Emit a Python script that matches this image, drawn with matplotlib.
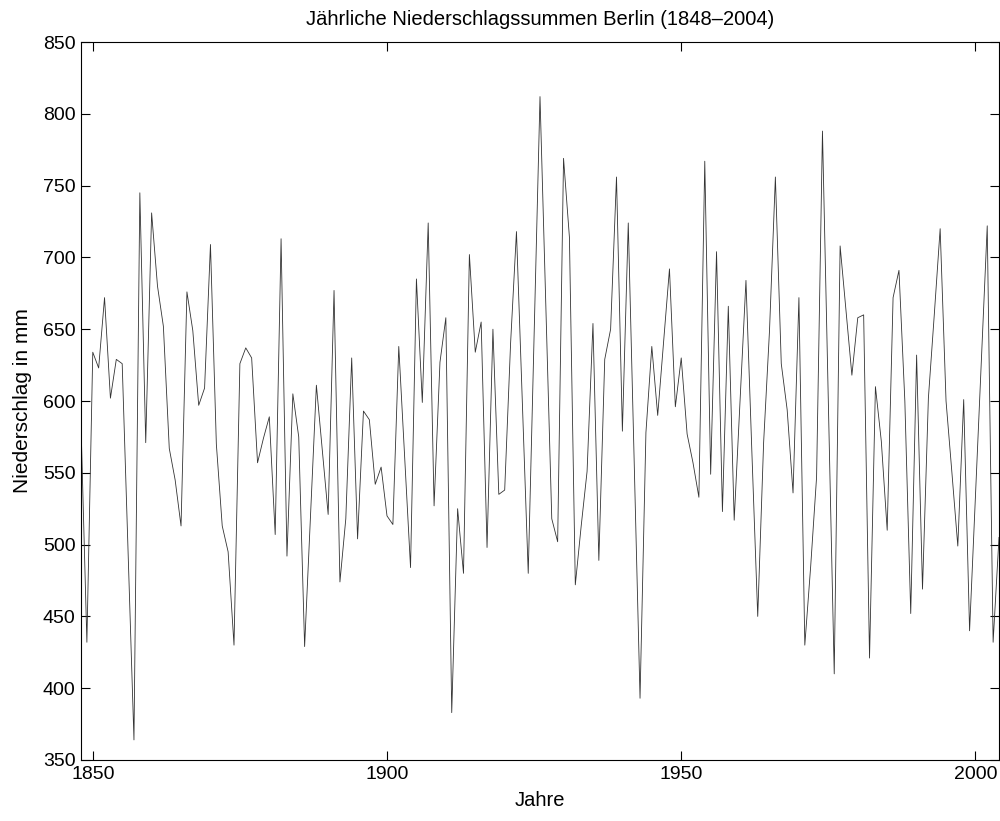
# Jaehrliche Niederschlagssummen Berlin 1848-2004, Linienplot im Matlab-Stil
import numpy as np
import matplotlib
matplotlib.use("Agg")
import matplotlib.pyplot as plt

plt.rcParams['font.family'] = ['Liberation Sans', 'DejaVu Sans']

years = np.arange(1848, 2005)
niederschlag = [
    584, 432, 634, 623, 672, 602, 629, 626, 495, 364,   # 1848-1857
    745, 571, 731, 680, 652, 567, 545, 513, 676, 649,   # 1858-1867
    597, 609, 709, 570, 513, 495, 430, 626, 637, 630,   # 1868-1877
    557, 574, 589, 507, 713, 492, 605, 575, 429, 520,   # 1878-1887
    611, 566, 521, 677, 474, 518, 630, 504, 593, 587,   # 1888-1897
    542, 554, 520, 514, 638, 561, 484, 685, 599, 724,   # 1898-1907
    527, 627, 658, 383, 525, 480, 702, 634, 655, 498,   # 1908-1917
    650, 535, 538, 640, 718, 599, 480, 645, 812, 665,   # 1918-1927
    518, 502, 769, 714, 472, 513, 551, 654, 489, 629,   # 1928-1937
    650, 756, 579, 724, 558, 393, 578, 638, 590, 641,   # 1938-1947
    692, 596, 630, 577, 557, 533, 767, 549, 704, 523,   # 1948-1957
    666, 517, 600, 684, 565, 450, 571, 649, 756, 626,   # 1958-1967
    594, 536, 672, 430, 485, 547, 788, 600, 410, 708,   # 1968-1977
    663, 618, 658, 660, 421, 610, 572, 510, 672, 691,   # 1978-1987
    600, 452, 632, 469, 602, 660, 720, 600, 550, 499,   # 1988-1997
    601, 440, 534, 628, 722, 432, 505,                  # 1998-2004
]
xticks = [1850, 1900, 1950, 2000]
yticks = np.arange(350, 851, 50)

fig = plt.figure(figsize=(10, 8.21), dpi=100)
ax = fig.add_axes([0.081, 0.0743, 0.918, 0.8745])

ax.plot(years, niederschlag, color='0.2', linewidth=0.6)

ax.set_xlim(1848, 2004)
ax.set_ylim(350, 850)
ax.set_xticks(xticks)
ax.set_yticks(yticks)
ax.tick_params(direction='in', length=6.5, width=0.8, top=True, right=True,
               labelsize=14, pad=4)
for s in ax.spines.values():
    s.set_linewidth(0.8)

ax.set_title('Jährliche Niederschlagssummen Berlin (1848–2004)', fontsize=14.5, pad=12)
ax.set_xlabel('Jahre', fontsize=14.5, labelpad=6)
ax.set_ylabel('Niederschlag in mm', fontsize=15, labelpad=8)

fig.savefig('out.png', dpi=100)
